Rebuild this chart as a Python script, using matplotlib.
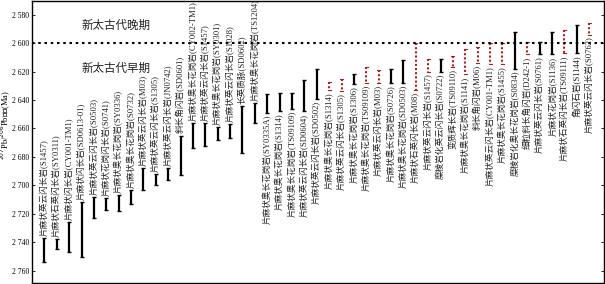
"""
Edades 207Pb/206Pb de rocas neoarqueanas (barras de rango)
"""
import numpy as np
import matplotlib
matplotlib.use("Agg")
import matplotlib.pyplot as plt

plt.rcParams['font.family'] = ['Liberation Serif', 'Noto Sans CJK SC']

# nombres de las muestras
samples = [
    "片麻状英云闪长岩(S1457)", "片麻状石英闪长岩(SY0311)", "片麻状闪长岩(CY001-TM1)",
    "片麻状闪长岩(SD0613-01)", "片麻状英云闪长岩(S0503)", "片麻状花岗闪长岩(S0741)",
    "片麻状奥长花岗岩(SY0336)", "片麻状奥长花岗岩(S0732)", "片麻状英云闪长岩(M03)",
    "片麻状英云闪长岩(S1305)", "片麻状英云闪长岩(JN0742)", "斜长角闪岩(SD0601)",
    "片麻状奥长花岗岩(CY002-TM1)", "片麻状英云闪长岩(S1457)", "片麻状奥长花岗岩(SY0301)",
    "片麻状英云闪长岩(S1028)", "长英质脉(SD0602)", "片麻状奥长花岗岩(TS1204)",
    "片麻状奥长花岗岩(SY0335A)", "片麻状奥长花岗岩(S1314)", "片麻状奥长花岗岩(TS09109)",
    "片麻状英云闪长岩(SD0604)", "片麻状英云闪长岩(SD0502)", "片麻状奥长花岗岩(S1314)",
    "片麻状英云闪长岩(S1305)", "片麻状奥长花岗岩(S1306)", "片麻状奥长花岗岩(TS09109)",
    "片麻状英云闪长岩(M03)", "片麻状奥长花岗岩(S0726)", "片麻状奥长花岗岩(SD0503)",
    "片麻状石英闪长岩(M08)", "片麻状英云闪长岩(S1457)", "糜棱岩化英云闪长岩(S0722)",
    "变质辉长岩(TS09110)", "片麻状奥长花岗岩(S1141)", "斜长角闪岩(M06)",
    "片麻状英云闪长岩(CY001-TM1)", "片麻状奥长花岗岩(S1455)", "糜棱岩化奥长花岗岩(S0834)",
    "细粒斜长角闪岩(D242-1)", "片麻状英云闪长岩(S0761)", "片麻状花岗岩(S1136)",
    "片麻状石英闪长岩(TS09111)", "角闪石岩(S1144)", "片麻状英云闪长岩(S0762)",
]

# edad minima y maxima (Ma)
age_min = [2737, 2738, 2726, 2712, 2708, 2709, 2707, 2703, 2688, 2692, 2688, 2665,
           2656, 2656, 2659, 2657, 2644, 2642, 2636, 2635, 2635, 2626, 2618, 2627,
           2625, 2622, 2617, 2619, 2618, 2612, 2600, 2611, 2611, 2609, 2604, 2603,
           2600, 2600, 2592, 2599, 2599, 2592, 2591, 2587, 2586]
age_max = [2754, 2745, 2747, 2750, 2723, 2717, 2718, 2713, 2703, 2700, 2696, 2693,
           2674, 2672, 2668, 2667, 2677, 2656, 2649, 2648, 2646, 2648, 2639, 2633,
           2634, 2629, 2628, 2628, 2628, 2628, 2633, 2620, 2620, 2617, 2622, 2614,
           2615, 2615, 2618, 2608, 2608, 2608, 2607, 2607, 2594]

# 1 = barra punteada roja, 0 = barra negra
dotted = [0] * 23 + [1, 1, 0, 1, 1, 0, 0, 1, 1, 0, 1, 1, 1, 1, 1, 0, 1, 0, 0, 1, 0, 1]

yticks = [2580, 2600, 2620, 2640, 2660, 2680, 2700, 2720, 2740, 2760]

fig = plt.figure(figsize=(6.05, 2.84), dpi=100)
ax = fig.add_axes([32 / 605, 0.004, 572 / 605, 0.992])

x = np.arange(1, len(samples) + 1)
for i in range(len(samples)):
    if dotted[i]:
        ax.plot([x[i], x[i]], [age_min[i], age_max[i]], color="#b02020",
                lw=1.5, ls=(0, (1, 1)))
        ax.plot([x[i] - 0.12, x[i] + 0.12], [age_min[i], age_min[i]], color="#b02020", lw=0.8)
        ax.plot([x[i] - 0.12, x[i] + 0.12], [age_max[i], age_max[i]], color="#b02020", lw=0.8)
    else:
        ax.errorbar(x[i], (age_min[i] + age_max[i]) / 2,
                    yerr=(age_max[i] - age_min[i]) / 2, fmt="none",
                    ecolor="black", elinewidth=1.6, capsize=1.6, capthick=1.0)
    # etiquetas: arriba de la barra para las primeras 18, abajo para el resto
    if i < 18:
        ax.text(x[i], age_min[i] - 1.5, samples[i], rotation=90, ha="center",
                va="bottom", fontsize=6.2, color="#222222", clip_on=True)
    else:
        ax.text(x[i], age_max[i] + 1.5, samples[i], rotation=90, ha="center",
                va="top", fontsize=6.2, color="#222222")

ax.axhline(2600, color="black", ls=(0, (1.2, 1.8)), lw=1.5)
ax.text(4.0, 2588, "新太古代晚期", fontsize=8.3, va="center", ha="left", color="#222222")
ax.text(4.0, 2618, "新太古代早期", fontsize=8.3, va="center", ha="left", color="#222222")

ax.set_xlim(0.0, 46.2)
ax.set_ylim(2768.5, 2570.5)
ax.set_xticks([])
ax.set_yticks(yticks)
ax.set_yticklabels(["%d %03d" % (t // 1000, t % 1000) for t in yticks], fontsize=5.5)
ax.tick_params(axis="y", direction="in", length=2.5, width=0.6, right=True, pad=2)
ax.set_ylabel("$^{207}$Pb/$^{206}$Pb年龄(Ma)", fontsize=6.0)
ax.yaxis.set_label_coords(-0.033, 0.56)
for s in ax.spines.values():
    s.set_linewidth(1.0)

fig.savefig("out.png", dpi=100)
